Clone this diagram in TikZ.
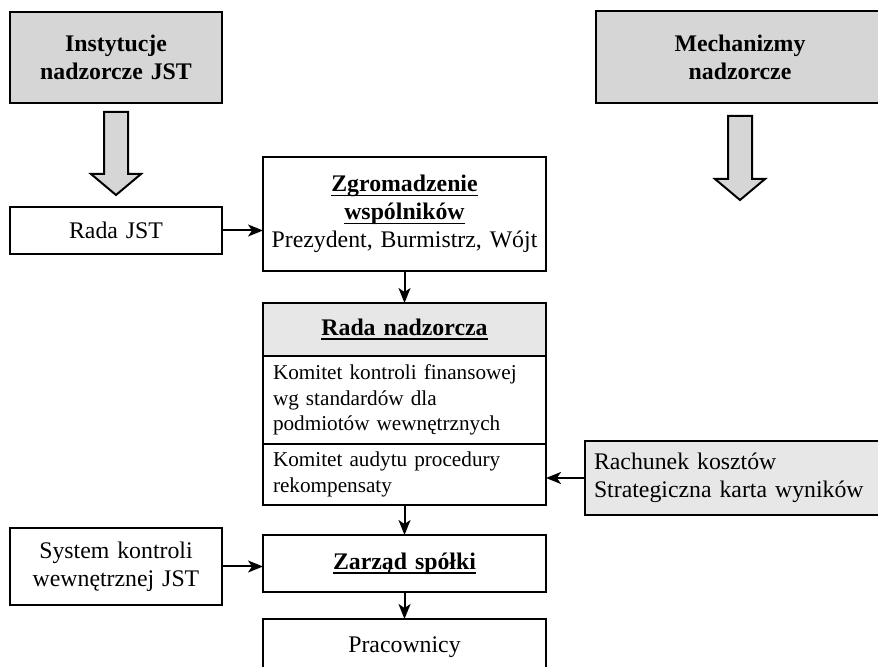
\documentclass[tikz,border=0pt]{standalone}
\usepackage{fontspec}
\setmainfont{Liberation Serif}
\usepackage{xcolor}
\usepackage{tikz}
\usetikzlibrary{positioning,calc}
\usetikzlibrary{arrows,arrows.meta,shapes}
\definecolor{boxgrey}{RGB}{214,214,214}
\definecolor{headgrey}{RGB}{231,231,231}
\newcommand{\undl}[1]{\setbox0\hbox{#1}\rlap{\rule[-2.4pt]{\wd0}{0.85pt}}\box0}
\tikzstyle{block} = [rectangle,draw=black,line width=1.1pt,outer sep=0pt,inner sep=0pt,align=center,font=\fontsize{11.9}{14}\selectfont]
\tikzstyle{greybox} = [block,fill=boxgrey,font=\fontsize{11.9}{14}\selectfont\bfseries]
\tikzstyle{colbox} = [block,text width=141.5pt]
\tikzstyle{sidebox} = [block,text width=106pt]
\tikzstyle{komitetbox} = [block,align=left,inner xsep=5pt,text width=131.5pt,font=\fontsize{10.6}{12.6}\selectfont]
\tikzstyle{bigarrow} = [draw=black,line width=1pt,fill=boxgrey,line join=miter]
\tikzstyle{line} = [-{Stealth[length=7.5pt,width=6pt,inset=2pt]},line width=1pt]

\begin{document}
\begin{tikzpicture}[x=1pt,y=1pt]
        \useasboundingbox (0,0) rectangle (439,-333.5);
        % top row
        \node[greybox,text width=106pt,minimum height=45.5pt] (inst) at (58,-28.75) {Instytucje\\nadzorcze JST};
        \node[greybox,text width=144pt,minimum height=46pt] (mech) at (370,-28.5) {Mechanizmy\\nadzorcze};
        \draw[bigarrow] ($(inst.south)+(-6pt,-4.5pt)$) -- ++(12pt,0) -- ++(0,-31pt) -- ++(6.5pt,0)
            -- ++(-12.5pt,-10.5pt) -- ++(-12.5pt,10.5pt) -- ++(6.5pt,0) -- cycle;
        \draw[bigarrow] ($(mech.south)+(-6pt,-6.5pt)$) -- ++(12pt,0) -- ++(0,-31.5pt) -- ++(6.5pt,0)
            -- ++(-12.5pt,-10.5pt) -- ++(-12.5pt,10.5pt) -- ++(6.5pt,0) -- cycle;
        % main column
        \node[colbox,minimum height=57pt] (zgrom) at (202.25,-107) {\textbf{\undl{Zgromadzenie}}\\\textbf{\undl{wspólników}}\\Prezydent, Burmistrz, Wójt};
        \path[line] node[sidebox,minimum height=23.5pt] (radajst) at (58,-115.25) {Rada JST}
        (radajst) edge (radajst.east -| zgrom.west);
        \path[line] node[colbox,fill=headgrey,minimum height=26.5pt,below=16pt of zgrom] (rada) {\textbf{\undl{Rada nadzorcza}}}
        (zgrom) edge (rada);
        \node[komitetbox,minimum height=44pt,below=0pt of rada] (kontrola) {Komitet kontroli finansowej\\wg standardów dla\\podmiotów wewnętrznych};
        \node[komitetbox,minimum height=30.5pt,below=0pt of kontrola] (audyt) {Komitet audytu procedury\\rekompensaty};
        \path[line] node[block,fill=headgrey,align=left,inner xsep=4.5pt,text width=140pt,minimum height=37pt,anchor=west] (rachunek) at (292.5,-239) {Rachunek kosztów\\Strategiczna karta wyników}
        (rachunek) edge (rachunek.west -| audyt.east);
        \path[line] node[colbox,minimum height=28.5pt,below=15pt of audyt] (zarzad) {\textbf{\undl{Zarząd spółki}}}
        (audyt) edge (zarzad);
        \path[line] node[sidebox,minimum height=38.5pt] (system) at (58,-283.25) {System kontroli\\wewnętrznej JST}
        (system) edge (system.east -| zarzad.west);
        \path[line] node[colbox,minimum height=28pt,below=13.5pt of zarzad] (prac) {Pracownicy}
        (zarzad) edge (prac);
    \end{tikzpicture}
\end{document}
